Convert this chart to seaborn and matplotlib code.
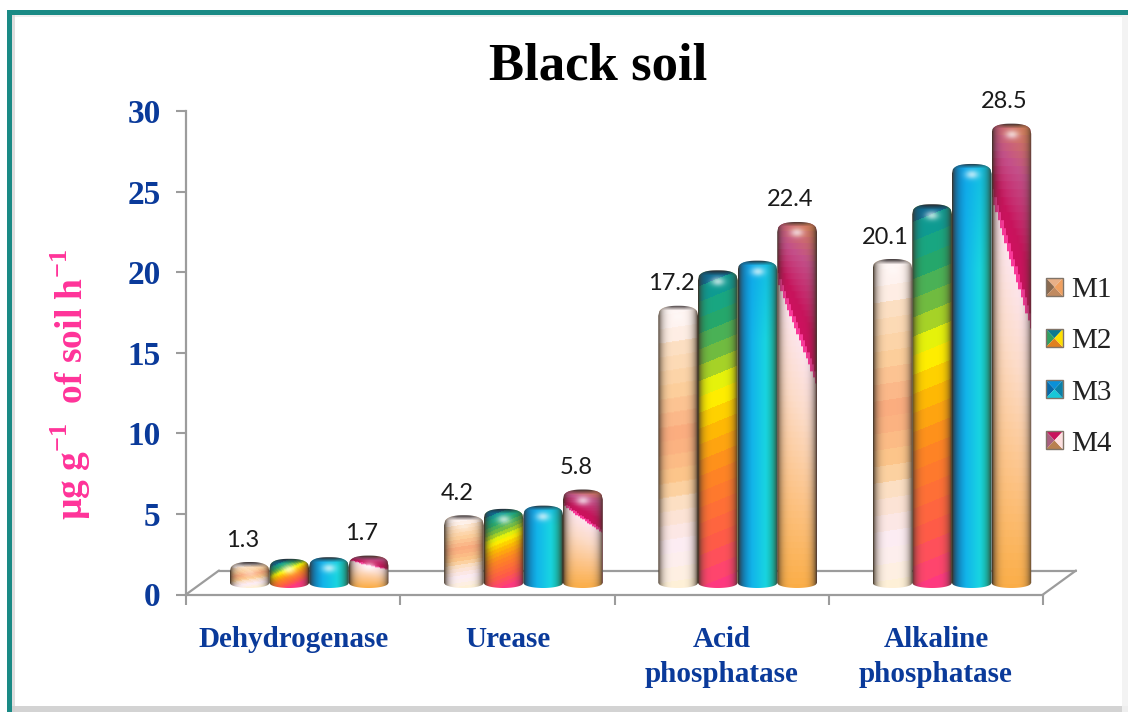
import numpy as np
import pandas as pd
import matplotlib
matplotlib.use("Agg")
import matplotlib.pyplot as plt
import matplotlib.transforms as mtransforms
from matplotlib.colors import to_rgb
from matplotlib.legend_handler import HandlerBase
from matplotlib.patches import Patch, Polygon, Rectangle
from matplotlib.path import Path
import seaborn as sns

categories = ["Dehydrogenase", "Urease", "Acid phosphatase", "Alkaline phosphatase"]
category_labels = ["Dehydrogenase", "Urease", "Acid\nphosphatase", "Alkaline\nphosphatase"]
series_names = ["M1", "M2", "M3", "M4"]
m1_values = [1.3, 4.2, 17.2, 20.1]
m2_values = [1.5, 4.6, 19.4, 23.5]
m3_values = [1.6, 4.8, 20.0, 26.0]
m4_values = [1.7, 5.8, 22.4, 28.5]
y_ticks = [0, 5, 10, 15, 20, 25, 30]
labelled_series = ["M1", "M4"]

NAVY = "#0a3a9a"
PINK = "#ff3399"
GREY = "#9c9c9c"
TEAL = "#1a8a85"
SERIF = "Liberation Serif"

# colour stops, going down the bar from 0 to 1
M1_STOPS = [(0, "#fff6f4"), (0.09, "#fff2ee"), (0.13, "#fde2c8"), (0.3, "#fdcf9c"), (0.46, "#fbab7e"),
            (0.62, "#fdc98c"), (0.7, "#fde0c4"), (0.78, "#fde6e0"), (0.86, "#fdeef6"), (1, "#fff1d8")]
M2_STOPS = [(0, "#0c6a90"), (0.06, "#0fa592"), (0.15, "#25a86c"), (0.27, "#80c038"), (0.37, "#ffff00"),
            (0.48, "#ffc000"), (0.62, "#ff8a20"), (0.85, "#ff5c48"), (1, "#ff3a80")]
M3_STOPS = [(0, "#0a78c0"), (0.35, "#12b4ea"), (0.7, "#18d6e2"), (1, "#10c4a8")]
M4_TOP = [(0, "#d98a50"), (0.3, "#c4508a"), (0.75, "#c8145c"), (1, "#d01060")]
M4_LOW = [(0, "#fde6f0"), (0.3, "#fddcc8"), (0.65, "#fdc488"), (1, "#fbae48")]

SWATCHES = {
    "M1": ["#e8b088", "#8a6a50", "#c08a60", "#f0a060"],
    "M2": ["#0c7a90", "#30a060", "#e08020", "#ffe000"],
    "M3": ["#0a90d8", "#0868a8", "#18c8d8", "#0a80a8"],
    "M4": ["#c8145c", "#a86080", "#b88050", "#fde0e0"],
}


def ramp(t, stops):
    pos = [s[0] for s in stops]
    rgb = np.array([to_rgb(s[1]) for s in stops])
    return np.stack([np.interp(t, pos, rgb[:, i]) for i in range(3)], axis=-1)


def bar_image(name, w, h):
    # paint one glossy cylinder, w x h pixels
    X, Y = np.meshgrid(np.linspace(0, 1, w), np.linspace(0, 1, h))
    ypx = Y * h
    bands = 20
    if name == "M1":
        t = np.round((Y + 6 / h * (X - 0.5)) * bands) / bands
        img = ramp(t, M1_STOPS)
    elif name == "M2":
        t = np.round((Y + 16 / h * (X - 0.5)) * bands) / bands
        img = ramp(t, M2_STOPS)
    elif name == "M3":
        img = ramp(X, M3_STOPS)
        top = np.clip(1 - Y * 4, 0, 1)[..., None]
        img = img * (1 - 0.4 * top) + np.array(to_rgb("#0a98e8")) * 0.4 * top
    else:
        b = 0.15 + 0.28 * X
        yq = np.round(Y * bands * 3) / (bands * 3)
        upper = ramp(yq / b, M4_TOP)
        upper = upper * X[..., None] ** 0.5 + ramp(np.maximum(yq / b, 0.3), M4_TOP) * (1 - X[..., None] ** 0.5)
        lower = ramp((yq - b) / (1 - b), M4_LOW)
        img = np.where((yq < b)[..., None], upper, lower)
        edge = np.abs(yq - b) < 0.014
        img[edge] = to_rgb("#fa3a9a")

    # gloss near the top
    glow = np.exp(-(((X - 0.5) * w / 7) ** 2) - ((ypx - 11) / 4.5) ** 2)[..., None]
    glow = glow * (0.35 if name == "M1" else 0.65)
    img = img * (1 - glow) + glow

    # dark small ellipse of the top face
    u = np.abs(2 * X - 1)
    rim = (np.clip(1 - ypx / 5, 0, 1) * np.clip(1.1 - u ** 2, 0, 1))[..., None] * 0.9
    img = img * (1 - rim) + np.array(to_rgb("#2c2426")) * rim

    # cylinder shading at both sides
    shade = (np.clip(1 - u ** 4, 0, 1) ** 0.8)[..., None]
    shade = 0.1 + 0.9 * shade
    img = img * shade + np.array(to_rgb("#3c3024")) * (1 - shade)
    return np.clip(img, 0, 1)


def bar_outline(x0, x1, v, rise, n=40):
    # rounded top, curved foot, in data units; rise is data units per pixel upward
    u = np.linspace(-1, 1, n)
    xs = (x0 + x1) / 2 + u * (x1 - x0) / 2
    top = v + (-10 + 10 * (1 - np.abs(u) ** 2.6) ** (1 / 2.6)) * rise
    foot = -5 * np.sqrt(1 - u ** 2) * rise
    verts = np.vstack([np.column_stack([xs, top]), np.column_stack([xs[::-1], foot[::-1]]), [[xs[0], top[0]]]])
    return Path(verts)


class SwatchHandler(HandlerBase):
    def create_artists(self, legend, orig_handle, xdescent, ydescent, width, height, fontsize, trans):
        cols = SWATCHES[orig_handle.get_label()]
        x0, y0 = -xdescent, -ydescent
        a, b, c, d = (x0, y0 + height), (x0 + width, y0 + height), (x0 + width, y0), (x0, y0)
        m = (x0 + width / 2, y0 + height / 2)
        out = []
        for pts, col in zip([(a, b, m), (a, d, m), (d, c, m), (b, c, m)], cols):
            out.append(Polygon(pts, closed=True, facecolor=col, edgecolor="none", transform=trans))
        out.append(Rectangle((x0, y0), width, height, fill=False, edgecolor="#807468", lw=1, transform=trans))
        return out


df = pd.DataFrame({
    "enzyme": categories * 4,
    "treatment": np.repeat(series_names, 4),
    "value": m1_values + m2_values + m3_values + m4_values,
})

sns.set_theme(style="white")
plt.rcParams["font.family"] = [SERIF, "DejaVu Sans"]
plt.rcParams["mathtext.fontset"] = "custom"
plt.rcParams["mathtext.rm"] = SERIF + ":bold"
plt.rcParams["mathtext.bf"] = SERIF + ":bold"

W, H = 1128, 712
fig = plt.figure(figsize=(W / 100, H / 100), dpi=100, facecolor="white")
left, right, y0_px, y30_px = 186, 1043, 594.5, 111
ax = fig.add_axes([left / W, 1 - y0_px / H, (right - left) / W, (y0_px - y30_px) / H])
ax.patch.set_alpha(0)

sns.barplot(data=df, x="enzyme", y="value", hue="treatment", order=categories, hue_order=series_names,
            palette=["#fdcf9c", "#78c038", "#12b4ea", "#c8145c"], width=0.74, gap=0, legend=False,
            errorbar=None, ax=ax)
ax.set_autoscale_on(False)
ax.set_xlim(-0.5, 3.5)
ax.set_ylim(0, 30)

px_x = 4 / (right - left)      # data units per pixel
px_y = 30 / (y0_px - y30_px)

# the bars stand in the middle of the 3D floor, so shift them from the front plane
shift = mtransforms.ScaledTranslation(16 / 100, 11.5 / 100, fig.dpi_scale_trans)
bar_trans = ax.transData + shift

for i, (name, container) in enumerate(zip(series_names, ax.containers)):
    for rect in container:
        x0, x1 = rect.get_x(), rect.get_x() + rect.get_width()
        v = rect.get_height()
        outline = bar_outline(x0, x1, v, px_y)
        rect.set_transform(bar_trans)
        rect.set_clip_path(outline, bar_trans)
        w_px = int(round((x1 - x0) / px_x))
        h_px = int(round(v / px_y)) + 5
        im = ax.imshow(bar_image(name, w_px, h_px), extent=(x0, x1, -5 * px_y, v), aspect="auto",
                       origin="upper", interpolation="bilinear", transform=bar_trans, zorder=3 + i)
        im.set_clip_path(outline, bar_trans)
        if name in labelled_series:
            ax.annotate(f"{v:.1f}", xy=((x0 + x1) / 2, v), xycoords=bar_trans, xytext=(-7, 22),
                        textcoords="offset pixels", ha="center", va="center", family="Lato",
                        fontsize=17, color="#1a1a1a", zorder=10, annotation_clip=False)

ax.set_xlim(-0.5, 3.5)
ax.set_ylim(0, 30)

# floor of the 3D box
dx, dy = 33 * px_x, 24 * px_y
for xs, ys in [([-0.5, -0.5 + dx], [0, dy]), ([-0.5 + dx, 3.5 + dx], [dy, dy]), ([3.5, 3.5 + dx], [0, dy])]:
    ax.plot(xs, ys, color=GREY, lw=1.6, clip_on=False, zorder=1)

sns.despine(ax=ax)
for side in ["left", "bottom"]:
    ax.spines[side].set_color(GREY)
    ax.spines[side].set_linewidth(1.6)

ax.set_yticks(y_ticks)
ax.set_yticklabels([str(t) for t in y_ticks], fontsize=24, fontweight="bold", color=NAVY)
ax.tick_params(axis="y", length=7.2, width=1.5, color=GREY, pad=11, left=True)
ax.set_xticks(range(4))
ax.set_xticklabels(category_labels, fontsize=21, fontweight="bold", color=NAVY, linespacing=1.35)
ax.set_xticks(np.arange(-0.5, 4), minor=True)
ax.tick_params(axis="x", which="major", length=0, pad=23)
ax.tick_params(axis="x", which="minor", length=7, width=1.5, color=GREY, bottom=True)
ax.set_xlabel("")
ax.set_ylabel("")

fig.text(598 / W, 1 - 66 / H, "Black soil", fontsize=38, fontweight="bold", color="black", ha="center", va="center")
fig.text(71 / W, 1 - 385 / H, "µg g$^{\\mathbf{-1}}$  of soil h$^{\\mathbf{-1}}$", fontsize=27,
         fontweight="bold", color=PINK, rotation=90, ha="center", va="center")

handles = [Patch(label=s) for s in series_names]
ax.legend(handles=handles, labels=series_names, handler_map={Patch: SwatchHandler()}, loc="center left",
          bbox_to_anchor=(1046 / W, 1 - 367 / H), bbox_transform=fig.transFigure, frameon=False,
          fontsize=21, handlelength=0.58, handleheight=0.58, handletextpad=0.3, labelspacing=0.86,
          borderpad=0, borderaxespad=0, labelcolor="#222222")

# slide frame
def frame_box(x, y, w, h, color, alpha=1.0):
    fig.add_artist(Rectangle((x / W, 1 - (y + h) / H), w / W, h / H, transform=fig.transFigure,
                             facecolor=color, edgecolor="none", alpha=alpha, zorder=-5))

frame_box(7, 10, 5, H - 10, TEAL)
frame_box(7, 10, W - 7, 5, TEAL)
frame_box(12, 15, 3, H - 15, "#c8c8c8", 0.6)
frame_box(12, 15, W - 12, 2, "#d8d8d8", 0.4)
frame_box(12, 706, W - 12, 6, "#cfcfcf", 0.9)
frame_box(1122, 15, 6, H - 15, "#f2f2f2", 0.9)

fig.savefig("out.png", dpi=100)
